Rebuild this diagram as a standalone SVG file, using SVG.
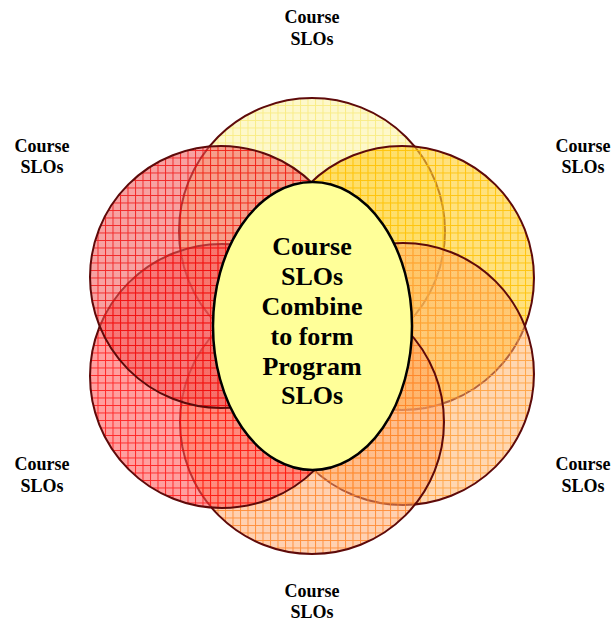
<svg xmlns="http://www.w3.org/2000/svg" width="613" height="622" viewBox="0 0 613 622">
  <style>
    .ring { stroke: #5E0A0A; stroke-width: 2; }
    .lbl { font-family: "Liberation Serif", "Times New Roman", serif; font-weight: bold; font-size: 18px; fill: #000; text-anchor: middle; }
    .core { font-family: "Liberation Serif", "Times New Roman", serif; font-weight: bold; font-size: 26px; fill: #000; text-anchor: middle; }
  </style>
  <defs>
    <pattern id="chk" patternUnits="userSpaceOnUse" width="2" height="2">
      <rect x="0" y="0" width="1" height="1" fill="#fff" fill-opacity="0.25"/>
      <rect x="1" y="1" width="1" height="1" fill="#fff" fill-opacity="0.25"/>
    </pattern>
    <pattern id="pTop" patternUnits="userSpaceOnUse" width="7.5" height="7.5">
      <rect width="7.5" height="7.5" fill="#FAEC70" fill-opacity="0.42"/>
      <rect width="7.5" height="7.5" fill="url(#chk)"/>
      <path d="M0 0.5H7.5M0.5 0V7.5" stroke="#F7E45A" stroke-opacity="0.6" stroke-width="1"/>
    </pattern>
    <pattern id="pUR" patternUnits="userSpaceOnUse" width="7.5" height="7.5">
      <rect width="7.5" height="7.5" fill="#FFC400" fill-opacity="0.58"/>
      <rect width="7.5" height="7.5" fill="url(#chk)"/>
      <path d="M0 0.5H7.5M0.5 0V7.5" stroke="#FFC000" stroke-opacity="0.85" stroke-width="1"/>
    </pattern>
    <pattern id="pLR" patternUnits="userSpaceOnUse" width="7.5" height="7.5">
      <rect width="7.5" height="7.5" fill="#FF9A3C" fill-opacity="0.46"/>
      <rect width="7.5" height="7.5" fill="url(#chk)"/>
      <path d="M0 0.5H7.5M0.5 0V7.5" stroke="#FF9A30" stroke-opacity="0.8" stroke-width="1"/>
    </pattern>
    <pattern id="pB" patternUnits="userSpaceOnUse" width="7.5" height="7.5">
      <rect width="7.5" height="7.5" fill="#FF8A3A" fill-opacity="0.45"/>
      <rect width="7.5" height="7.5" fill="url(#chk)"/>
      <path d="M0 0.5H7.5M0.5 0V7.5" stroke="#FF8020" stroke-opacity="0.8" stroke-width="1"/>
    </pattern>
    <pattern id="pLL" patternUnits="userSpaceOnUse" width="7.5" height="7.5">
      <rect width="7.5" height="7.5" fill="#FF2424" fill-opacity="0.5"/>
      <rect width="7.5" height="7.5" fill="url(#chk)"/>
      <path d="M0 0.5H7.5M0.5 0V7.5" stroke="#FF0000" stroke-opacity="0.75" stroke-width="1"/>
    </pattern>
    <pattern id="pUL" patternUnits="userSpaceOnUse" width="7.5" height="7.5">
      <rect width="7.5" height="7.5" fill="#EE2A2A" fill-opacity="0.5"/>
      <rect width="7.5" height="7.5" fill="url(#chk)"/>
      <path d="M0 0.5H7.5M0.5 0V7.5" stroke="#F00000" stroke-opacity="0.75" stroke-width="1"/>
    </pattern>
  </defs>

  <rect width="613" height="622" fill="#fff"/>

  <g id="circle-top"><circle class="ring" cx="312" cy="231" r="133" fill="url(#pTop)"/></g>
  <g id="circle-upper-right"><circle class="ring" cx="402" cy="278" r="132" fill="url(#pUR)"/></g>
  <g id="circle-lower-right"><circle class="ring" cx="403" cy="374" r="131" fill="url(#pLR)"/></g>
  <g id="circle-bottom"><circle class="ring" cx="312" cy="422" r="132" fill="url(#pB)"/></g>
  <g id="circle-lower-left"><circle class="ring" cx="222" cy="376" r="132" fill="url(#pLL)"/></g>
  <g id="circle-upper-left"><circle class="ring" cx="221" cy="277" r="131" fill="url(#pUL)"/></g>

  <g id="center">
    <ellipse cx="312.5" cy="326" rx="99.5" ry="144" fill="#FFFF99" stroke="#000" stroke-width="2.5"/>
    <text class="core" x="312" y="255">Course</text>
    <text class="core" x="312" y="285">SLOs</text>
    <text class="core" x="312" y="315">Combine</text>
    <text class="core" x="312" y="345">to form</text>
    <text class="core" x="312" y="375">Program</text>
    <text class="core" x="312" y="404">SLOs</text>
  </g>

  <g id="label-top"><text class="lbl" x="312" y="23">Course</text><text class="lbl" x="312" y="45">SLOs</text></g>
  <g id="label-upper-left"><text class="lbl" x="42" y="152">Course</text><text class="lbl" x="42" y="173">SLOs</text></g>
  <g id="label-upper-right"><text class="lbl" x="583" y="152">Course</text><text class="lbl" x="583" y="173">SLOs</text></g>
  <g id="label-lower-left"><text class="lbl" x="42" y="470">Course</text><text class="lbl" x="42" y="492">SLOs</text></g>
  <g id="label-lower-right"><text class="lbl" x="583" y="470">Course</text><text class="lbl" x="583" y="492">SLOs</text></g>
  <g id="label-bottom"><text class="lbl" x="312" y="597">Course</text><text class="lbl" x="312" y="618">SLOs</text></g>

  <g id="connectors"></g>
</svg>
